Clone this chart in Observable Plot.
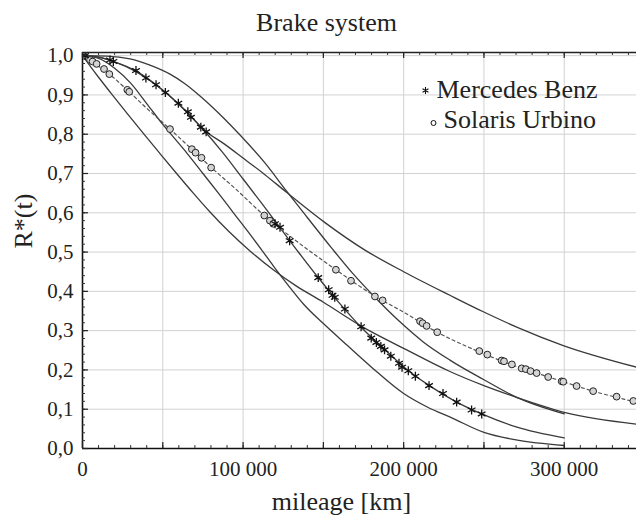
<!DOCTYPE html>
<html>
<head>
<meta charset="utf-8">
<script src="https://cdn.jsdelivr.net/npm/d3@7"></script>
<script src="https://cdn.jsdelivr.net/npm/@observablehq/plot@0.6"></script>
<style>
  html, body { margin: 0; padding: 0; background: #fff; }
  #chart { width: 636px; height: 521px; }
</style>
</head>
<body>
<div id="chart"></div>
<script>
// ---------- texts ----------
const chartTitle = "Brake system";
const xTitle = "mileage [km]";
const yTitle = "R*(t)";
const seriesNames = ["Mercedes Benz", "Solaris Urbino"];

// ---------- tick values ----------
const xTickValues = [0, 100000, 200000, 300000];
const xGridValues = [50000, 100000, 150000, 200000, 250000, 300000];
const yTickValues = [0, 0.1, 0.2, 0.3, 0.4, 0.5, 0.6, 0.7, 0.8, 0.9, 1.0];
const yGridValues = [0.1, 0.2, 0.3, 0.4, 0.5, 0.6, 0.7, 0.8, 0.9, 1.0];
const xMinorTicks = d3.range(0, 345001, 10000);
const xMajorTicks = d3.range(0, 345001, 50000);
const yMinorTicks = d3.range(0, 1.001, 0.02);
const yMajorTicks = d3.range(0, 1.001, 0.1);

// ---------- Mercedes Benz: empirical points ----------
const benzKm = [1600, 17100, 19200, 33300, 39500, 45800, 51600, 59700, 65600, 67500, 73700, 77000,
  119900, 123000, 129000, 146800, 153300, 155700, 157100, 163400, 173500, 179800, 183000, 185800,
  188100, 192000, 197100, 199000, 202900, 207300, 215800, 224500, 233000, 242300, 248600];
const benzR = [1.0, 0.989, 0.985, 0.962, 0.943, 0.926, 0.906, 0.879, 0.857, 0.843, 0.818, 0.806,
  0.572, 0.563, 0.529, 0.435, 0.404, 0.39, 0.385, 0.355, 0.31, 0.281, 0.27, 0.26,
  0.251, 0.235, 0.217, 0.207, 0.198, 0.184, 0.16, 0.14, 0.118, 0.098, 0.088];

// Mercedes Benz: fitted curve and bounds
const benzFitKm = [0, 10000, 20000, 33000, 45800, 59900, 73600, 87000, 100000, 112000, 122500, 135000,
  147000, 160000, 173200, 187700, 201400, 216000, 233000, 248600, 270000, 300000];
const benzFitR = [1.0, 0.996, 0.984, 0.962, 0.926, 0.877, 0.819, 0.755, 0.686, 0.622, 0.565, 0.497,
  0.434, 0.370, 0.310, 0.254, 0.203, 0.160, 0.118, 0.088, 0.055, 0.027];
const benzUpperKm = [0, 15000, 29600, 42000, 54500, 64000, 73000, 87700, 98100, 113600, 127100, 140000,
  155200, 168000, 182100, 197000, 212000, 228800, 250000, 270400, 300000];
const benzUpperR = [1.0, 0.999, 0.992, 0.976, 0.953, 0.928, 0.898, 0.842, 0.798, 0.727, 0.655, 0.588,
  0.510, 0.447, 0.385, 0.325, 0.272, 0.225, 0.175, 0.130, 0.088];
const benzLowerKm = [0, 10000, 20000, 30000, 40000, 50000, 57600, 65000, 75000, 85000, 94000, 104000,
  112000, 118800, 128000, 138000, 150000, 165000, 180000, 200000, 215000, 230000, 250000, 270000, 300000];
const benzLowerR = [1.0, 0.993, 0.968, 0.93, 0.878, 0.825, 0.788, 0.752, 0.700, 0.648, 0.600, 0.547,
  0.503, 0.465, 0.416, 0.366, 0.318, 0.262, 0.207, 0.140, 0.105, 0.078, 0.041, 0.022, 0.0076];

// ---------- Solaris Urbino: empirical points ----------
const solarisKm = [600, 4700, 6300, 8800, 13400, 16700, 27900, 29100, 54500, 68100, 70400, 74100, 80100,
  113200, 116700, 118800, 157800, 167200, 182100, 186900, 210200, 211800, 214300, 220900, 247100,
  252100, 261000, 262500, 267400, 273500, 276100, 279000, 282800, 290000, 298400, 299400, 307700,
  318000, 332600, 343000];
const solarisR = [1.0, 0.989, 0.985, 0.979, 0.966, 0.953, 0.913, 0.908, 0.813, 0.762, 0.753, 0.74, 0.715,
  0.593, 0.58, 0.572, 0.455, 0.427, 0.387, 0.377, 0.324, 0.319, 0.312, 0.296, 0.248,
  0.239, 0.224, 0.222, 0.214, 0.204, 0.202, 0.197, 0.192, 0.182, 0.171, 0.170, 0.159,
  0.146, 0.132, 0.121];

// Solaris Urbino: fitted curve and bounds
const solarisFitKm = [0, 5000, 10000, 16700, 28000, 40000, 54500, 68000, 80000, 95000, 113200, 130000,
  157800, 182100, 200000, 220900, 247100, 267400, 282800, 299400, 318000, 345000];
const solarisFitR = [1.0, 0.987, 0.973, 0.953, 0.912, 0.866, 0.813, 0.762, 0.716, 0.662, 0.593, 0.538,
  0.455, 0.388, 0.347, 0.296, 0.246, 0.213, 0.192, 0.170, 0.146, 0.118];
const solarisUpperKm = [0, 10000, 20000, 33000, 45000, 55000, 65000, 76300, 88000, 99100, 113600, 127100,
  151000, 175900, 200000, 228800, 249600, 270400, 299400, 345000];
const solarisUpperR = [1.0, 0.996, 0.984, 0.960, 0.928, 0.895, 0.856, 0.809, 0.776, 0.742, 0.697, 0.652,
  0.575, 0.505, 0.450, 0.390, 0.348, 0.309, 0.262, 0.207];
const solarisLowerKm = [0, 5000, 10000, 18200, 27000, 37900, 48000, 58600, 69000, 79400, 91000, 104300,
  118800, 133000, 149800, 173800, 200000, 228800, 250000, 270400, 300000, 345000];
const solarisLowerR = [1.0, 0.972, 0.945, 0.902, 0.857, 0.802, 0.752, 0.700, 0.650, 0.602, 0.553, 0.503,
  0.455, 0.414, 0.373, 0.311, 0.255, 0.196, 0.160, 0.130, 0.092, 0.062];

// ---------- build tables ----------
const rows = (xs, ys) => xs.map((x, i) => ({km: x, r: ys[i]}));
const benzPts = rows(benzKm, benzR);
const solarisPts = rows(solarisKm, solarisR);
const solidCurves = [
  rows(benzFitKm, benzFitR), rows(benzUpperKm, benzUpperR), rows(benzLowerKm, benzLowerR),
  rows(solarisUpperKm, solarisUpperR), rows(solarisLowerKm, solarisLowerR)
];
const dashedCurve = rows(solarisFitKm, solarisFitR);

// ---------- layout ----------
const W = 636, H = 521;
const mL = 82, mR = 0, mT = 52, mB = 73;
const xMax = 345000, yMax = 1.008;
const kmPerPx = xMax / (W - mL - mR);
const rPerPx = yMax / (H - mT - mB);
const serif = "Liberation Serif";
const lineColor = "#3a3a3a";

const fmtX = d => d === 0 ? "0" : d3.format(",")(d).replace(/,/g, " ");
const fmtY = d => d.toFixed(1).replace(".", ",");

const txt = (s, o) => Plot.text([s], {text: d => d, lineAnchor: "middle", fontFamily: serif, fontSize: 26, fill: "#222", ...o});

const marks = [
  // grid
  Plot.ruleX(xGridValues, {x: d => d, stroke: "#d2d2d2", strokeWidth: 1}),
  Plot.ruleY(yGridValues, {y: d => d, stroke: "#d2d2d2", strokeWidth: 1}),
  // curves
  ...solidCurves.map(c => Plot.line(c, {x: "km", y: "r", stroke: lineColor, strokeWidth: 1.3, curve: "monotone-x", clip: true})),
  Plot.line(dashedCurve, {x: "km", y: "r", stroke: "#555", strokeWidth: 1.2, strokeDasharray: "3,3", curve: "monotone-x", clip: true}),
  // points
  Plot.dot(solarisPts, {x: "km", y: "r", r: 3.4, symbol: "circle", fill: "#d4d4d4", stroke: "#222", strokeWidth: 1, clip: true}),
  Plot.dot(benzPts, {x: "km", y: "r", r: 4.2, symbol: "asterisk", stroke: "#111", strokeWidth: 1.3, clip: true}),
  // frame lines
  Plot.ruleX([0], {x: d => d, stroke: "#111", strokeWidth: 1.6}),
  Plot.ruleY([0], {y: d => d, stroke: "#111", strokeWidth: 1.6}),
  Plot.ruleY([yMax], {y: d => d, stroke: "#222", strokeWidth: 1.4}),
  // inner ticks
  Plot.ruleX(xMinorTicks, {x: d => d, y1: 0, y2: 3 * rPerPx, stroke: "#333", strokeWidth: 1}),
  Plot.ruleX(xMajorTicks, {x: d => d, y1: 0, y2: 6 * rPerPx, stroke: "#222", strokeWidth: 1.2}),
  Plot.ruleX(xMinorTicks, {x: d => d, y1: yMax, y2: yMax - 3 * rPerPx, stroke: "#333", strokeWidth: 1}),
  Plot.ruleX(xMajorTicks, {x: d => d, y1: yMax, y2: yMax - 6 * rPerPx, stroke: "#222", strokeWidth: 1.2}),
  Plot.ruleY(yMinorTicks, {y: d => d, x1: 0, x2: 3 * kmPerPx, stroke: "#333", strokeWidth: 1}),
  Plot.ruleY(yMajorTicks, {y: d => d, x1: 0, x2: 6 * kmPerPx, stroke: "#222", strokeWidth: 1.2}),
  // legend
  Plot.dot([seriesNames[0]], {frameAnchor: "top-left", dx: 343, dy: 38, r: 3.2, symbol: "asterisk", stroke: "#111", strokeWidth: 1.1}),
  Plot.dot([seriesNames[1]], {frameAnchor: "top-left", dx: 351, dy: 70.5, r: 2.5, symbol: "circle", fill: "white", stroke: "#111", strokeWidth: 1}),
  txt(seriesNames[0], {frameAnchor: "top-left", dx: 354, dy: 37, textAnchor: "start"}),
  txt(seriesNames[1], {frameAnchor: "top-left", dx: 361, dy: 67.5, textAnchor: "start"}),
  // titles
  txt(chartTitle, {frameAnchor: "top", dx: -33, dy: -30}),
  txt(xTitle, {frameAnchor: "bottom", dx: -18, dy: 53}),
  txt(yTitle, {frameAnchor: "left", dx: -59, dy: -2, rotate: -90})
];

const chart = Plot.plot({
  width: W,
  height: H,
  marginLeft: mL,
  marginRight: mR,
  marginTop: mT,
  marginBottom: mB,
  style: {fontFamily: serif, fontSize: "21px", color: "#222", background: "white", overflow: "visible"},
  x: {domain: [0, xMax], ticks: xTickValues, tickFormat: fmtX, tickSize: 0, tickPadding: 13, label: null},
  y: {domain: [0, yMax], ticks: yTickValues, tickFormat: fmtY, tickSize: 0, tickPadding: 9, label: null},
  marks
});
document.getElementById("chart").appendChild(chart);
</script>
</body>
</html>
